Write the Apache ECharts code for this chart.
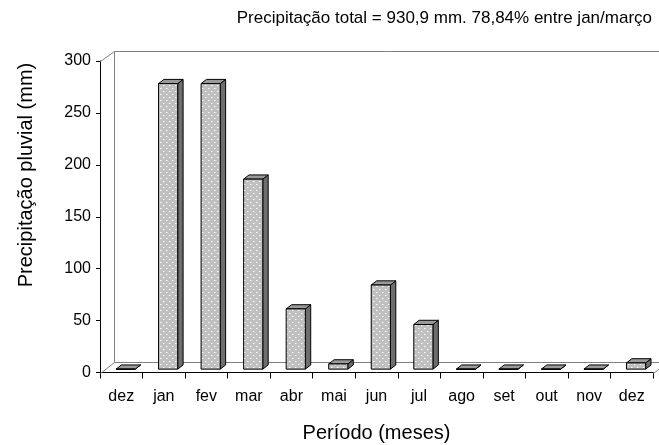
<!DOCTYPE html>
<html><head><meta charset="utf-8">
<script src="https://cdn.jsdelivr.net/npm/echarts@6/dist/echarts.min.js"></script>
<style>html,body{margin:0;padding:0;background:#fff}#c{width:659px;height:445px}</style>
</head><body><div id="c"></div>
<script>
const categories = ['dez','jan','fev','mar','abr','mai','jun','jul','ago','set','out','nov','dez'];
const rainfall = [0, 275, 275, 183, 58, 5, 81, 43, 0, 0, 0, 0, 6];
const yTicks = [0, 50, 100, 150, 200, 250, 300];
const titleText = 'Precipitação total = 930,9 mm. 78,84% entre jan/março';
const yName = 'Precipitação pluvial (mm)';
const xName = 'Período (meses)';

const FONT = '"Liberation Sans", Arial, sans-serif';
const DX = 13.5, DY = -10.5;     // full depth of the 3D box
const F1 = 0.32, F2 = 0.72;      // bar front/back depth fraction
const BAR_W = 0.45;              // bar width as fraction of band

function dotPattern() {
  const c = document.createElement('canvas');
  c.width = 6; c.height = 6;
  const g = c.getContext('2d');
  g.fillStyle = '#c0c0c0'; g.fillRect(0, 0, 6, 6);
  g.fillStyle = '#ffffff'; g.fillRect(1, 1, 1, 1); g.fillRect(4, 4, 1, 1);
  g.fillStyle = '#dcdcdc'; g.fillRect(2, 1, 1, 1); g.fillRect(5, 4, 1, 1);
  return c;
}
const pattern = { image: dotPattern(), repeat: 'repeat' };

const chart = echarts.init(document.getElementById('c'), null, { renderer: 'canvas' });

function h(v) { return Math.round(v) + 0.5; }

function renderWall(params, api) {
  const cs = params.coordSys;
  const x = cs.x, y = cs.y, w = cs.width, hgt = cs.height;
  const st = { stroke: '#808080', lineWidth: 1, fill: null };
  const L = (x1, y1, x2, y2) => ({ type: 'line', shape: { x1: h(x1), y1: h(y1), x2: h(x2), y2: h(y2) }, style: st, silent: true });
  return {
    type: 'group',
    children: [
      { type: 'polygon', shape: { points: [[x + DX, y + DY], [x + w + DX, y + DY], [x + w + DX, y + hgt + DY], [x + DX, y + hgt + DY]] }, style: { fill: '#ffffff' }, silent: true },
      L(x + DX, y + DY, x + w + DX, y + DY),
      L(x + DX, y + DY, x + DX, y + hgt + DY),
      L(x + DX, y + hgt + DY, x + w + DX, y + hgt + DY),
      L(x, y, x + DX, y + DY),
      L(x, y + hgt, x + DX, y + hgt + DY),
      L(x + w, y + hgt, x + w + DX, y + hgt + DY)
    ]
  };
}

function renderBar(params, api) {
  const idx = api.value(0), val = api.value(1);
  const base = api.coord([idx, 0]);
  const top = api.coord([idx, val]);
  const bw = api.size([1, 0])[0];
  const w = bw * BAR_W;
  const ox = F1 * DX, oy = F1 * DY;
  const bx = (F2 - F1) * DX, by = (F2 - F1) * DY;
  const Lx = base[0] - w / 2 + ox, Rx = Lx + w;
  const B = base[1] + oy, T = Math.min(top[1] + oy, B);
  const line = { stroke: '#000000', lineWidth: 1, lineJoin: 'round' };
  return {
    type: 'group',
    children: [
      { type: 'polygon', shape: { points: [[Rx, T], [Rx + bx, T + by], [Rx + bx, B + by], [Rx, B]] }, style: Object.assign({ fill: '#6e6e6e' }, line) },
      { type: 'polygon', shape: { points: [[Lx, T], [Rx, T], [Rx + bx, T + by], [Lx + bx, T + by]] }, style: Object.assign({ fill: '#9a9a9a' }, line) },
      { type: 'rect', shape: { x: Lx, y: T, width: w, height: B - T }, style: Object.assign({ fill: pattern }, line) }
    ]
  };
}

const option = {
  backgroundColor: '#ffffff',
  animation: false,
  title: {
    text: titleText, right: 7, top: 10, padding: 0,
    textStyle: { fontFamily: FONT, fontSize: 17, fontWeight: 'normal', color: '#000' }
  },
  grid: { left: 100, right: 6, top: 61, bottom: 72.5, containLabel: false, outerBoundsMode: 'none' },
  xAxis: {
    type: 'category', data: categories, boundaryGap: true,
    axisLine: { show: true, lineStyle: { color: '#000', width: 1 } },
    axisTick: { show: true, length: 6, interval: 0, lineStyle: { color: '#000' } },
    axisLabel: { interval: 0, margin: 16, fontFamily: FONT, fontSize: 16, color: '#000' },
    splitLine: { show: false },
    name: xName, nameLocation: 'middle', nameGap: 51,
    nameTextStyle: { fontFamily: FONT, fontSize: 20, color: '#000' }
  },
  yAxis: {
    type: 'value', min: yTicks[0], max: yTicks[yTicks.length - 1], interval: yTicks[1] - yTicks[0],
    axisLine: { show: true, lineStyle: { color: '#000', width: 1 } },
    axisTick: { show: true, length: 4, lineStyle: { color: '#000' } },
    axisLabel: { margin: 9, fontFamily: FONT, fontSize: 16, color: '#000' },
    splitLine: { show: false }
  },
  graphic: [{
    type: 'text', x: 26, y: 175, rotation: Math.PI / 2,
    style: { text: yName, fontFamily: FONT, fontSize: 20, fill: '#000', align: 'center', verticalAlign: 'middle' }
  }],
  series: [
    { type: 'custom', name: 'wall', renderItem: renderWall, data: [[0, 0]], clip: false, z: 1, silent: true },
    { type: 'custom', name: 'Precipitação', renderItem: renderBar, data: rainfall.map((v, i) => [i, v]), clip: false, z: 3 }
  ]
};
chart.setOption(option);
</script>
</body></html>
